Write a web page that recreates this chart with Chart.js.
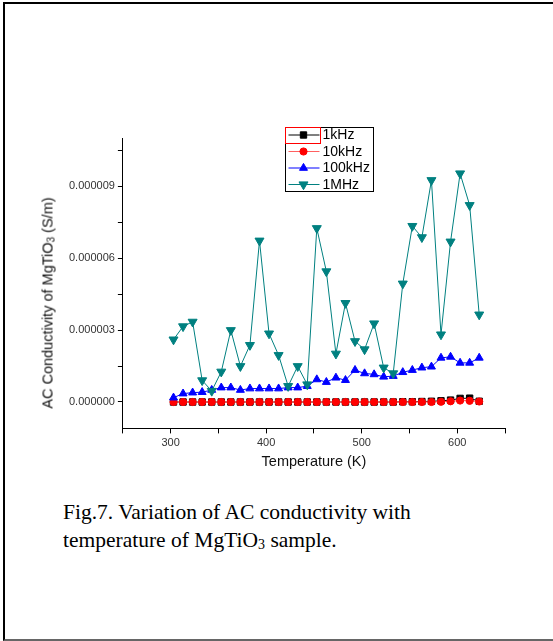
<!DOCTYPE html>
<html lang="en">
<head>
<meta charset="UTF-8">
<title>AC conductivity of MgTiO3</title>
<script src="https://cdn.jsdelivr.net/npm/chart.js"></script>
<style>
    body { margin: 0; background: #fff; }
    .pagina { position: relative; width: 553px; height: 641px; overflow: hidden; font-family: Arial, "Liberation Sans", sans-serif; }
    .moldura { position: absolute; left: 3px; top: 2px; width: 560px; height: 635px; border-top: 2px solid #000; border-left: 2px solid #000; border-bottom: 2px solid #666; }
    #grafico { position: absolute; left: 0; top: 0; }
    .tituloY { position: absolute; left: 48px; top: 303px; transform: translate(-50%, -50%) rotate(-90deg); white-space: nowrap; font-size: 14.5px; color: #111; }
    .tituloY sub { font-size: 10px; vertical-align: -2px; }
    .legenda { position: absolute; left: 63px; top: 498px; font-family: "Liberation Serif", "Times New Roman", serif; font-size: 21.5px; line-height: 28px; color: #000; }
    .legenda sub { font-size: 14px; vertical-align: -2px; }
</style>
</head>
<body>
<div class="pagina">
    <div class="moldura"></div>
    <canvas id="grafico" width="553" height="480"></canvas>
    <div class="tituloY">AC Conductivity of MgTiO<sub>3</sub> (S/m)</div>
    <div class="legenda">Fig.7. Variation of AC conductivity with<br>temperature of MgTiO<sub>3</sub> sample.</div>
</div>
<script>
    // temperaturas (K)
    var temperaturas = [303, 313, 323, 333, 343, 353, 363, 373, 383, 393, 403, 413, 423, 433, 443, 453, 463,
        473, 483, 493, 503, 513, 523, 533, 543, 553, 563, 573, 583, 593, 603, 613, 623];

    // condutividade em unidades de 1e-6 S/m
    var unidade = 1e-6;
    var ac1kHz = [0, 0, 0, 0, 0, 0, 0, 0, 0, 0, 0, 0, 0, 0, 0, 0, 0,
        0, 0, 0, 0, 0, 0, 0, 0.01, 0.01, 0.02, 0.03, 0.05, 0.08, 0.15, 0.16, 0.03];
    var ac10kHz = [0, 0, 0, 0, 0, 0, 0, 0, 0, 0, 0, 0, 0, 0, 0, 0, 0,
        0, 0, 0, 0, 0, 0, 0, 0, 0, 0, 0, 0.01, 0.03, 0.06, 0.05, 0.02];
    var ac100kHz = [0.18, 0.35, 0.39, 0.41, 0.50, 0.60, 0.60, 0.50, 0.56, 0.56, 0.56, 0.56, 0.60, 0.60, 0.66, 0.94, 0.83,
        1.01, 0.91, 1.33, 1.19, 1.15, 1.05, 1.08, 1.24, 1.33, 1.43, 1.47, 1.84, 1.88, 1.63, 1.63, 1.84];
    var ac1MHz = [2.60, 3.15, 3.34, 0.90, 0.46, 1.26, 2.99, 1.49, 2.37, 6.72, 2.85, 1.95, 0.66, 1.49, 0.73, 7.24, 5.44,
        2.01, 4.12, 2.53, 2.19, 3.27, 1.43, 1.19, 4.93, 7.33, 6.86, 9.24, 2.81, 6.68, 9.52, 8.20, 3.64];

    var rotulos = ['1kHz', '10kHz', '100kHz', '1MHz'];

    // eixos
    var xMin = 250, xMax = 650;
    var xTicks = [250, 300, 350, 400, 450, 500, 550, 600, 650];
    var xComRotulo = [300, 400, 500, 600];
    var yMin = -1.1, yMax = 11;
    var yTicks = [0, 1.5, 3, 4.5, 6, 7.5, 9, 10.5];
    var yComRotulo = [0, 3, 6, 9];

    function pontos(valores) {
        return temperaturas.map(function (t, i) {
            return { x: t, y: valores[i] * unidade };
        });
    }

    var estilos = [
        { cor: '#000000', linha: '#000000', forma: 'rect', raio: 4.5, rot: 0, ordem: 3 },
        { cor: '#ff0000', linha: '#ff6060', forma: 'circle', raio: 3.6, rot: 0, ordem: 2 },
        { cor: '#0000ff', linha: '#0000ff', forma: 'triangle', raio: 4.6, rot: 0, ordem: 1 },
        { cor: '#008080', linha: '#008080', forma: 'triangle', raio: 5.2, rot: 180, ordem: 0 }
    ];
    var series = [ac1kHz, ac10kHz, ac100kHz, ac1MHz];

    var datasets = series.map(function (s, i) {
        var e = estilos[i];
        return {
            label: rotulos[i],
            data: pontos(s),
            borderColor: e.linha,
            backgroundColor: e.cor,
            borderWidth: 1,
            pointStyle: e.forma,
            pointRadius: e.raio,
            pointRotation: e.rot,
            pointBackgroundColor: e.cor,
            pointBorderColor: e.cor,
            pointBorderWidth: 1,
            tension: 0,
            order: e.ordem
        };
    });

    function desenhaMarcador(ctx, forma, r, rot, x, y) {
        ctx.beginPath();
        if (forma == 'rect') {
            var s = r * Math.SQRT1_2;
            ctx.rect(x - s, y - s, 2 * s, 2 * s);
        } else if (forma == 'circle') {
            ctx.arc(x, y, r, 0, Math.PI * 2);
        } else {
            var a = rot * Math.PI / 180;
            for (var k = 0; k < 3; k++) {
                var px = x + Math.sin(a) * r, py = y - Math.cos(a) * r;
                if (k == 0) ctx.moveTo(px, py); else ctx.lineTo(px, py);
                a += Math.PI * 2 / 3;
            }
            ctx.closePath();
        }
        ctx.fill();
        ctx.stroke();
    }

    // caixa de legenda dentro do grafico, como no Origin
    var caixaLegenda = {
        id: 'caixaLegenda',
        afterDatasetsDraw: function (chart) {
            var ctx = chart.ctx;
            var area = chart.chartArea;
            var x0 = Math.round(area.left + 162) + 0.5, y0 = Math.round(area.top - 11) + 0.5;
            ctx.save();
            ctx.fillStyle = '#fff';
            ctx.fillRect(x0, y0, 88, 64);
            ctx.lineWidth = 1;
            ctx.strokeStyle = '#000';
            ctx.strokeRect(x0, y0, 88, 64);
            ctx.strokeStyle = '#ff0000';
            ctx.strokeRect(x0, y0, 35, 16);
            ctx.font = '14px Arial, "Liberation Sans", sans-serif';
            ctx.textBaseline = 'middle';
            chart.data.datasets.forEach(function (ds, i) {
                var y = y0 + 7.5 + i * 16.5;
                var e = estilos[i];
                ctx.strokeStyle = ds.borderColor;
                ctx.beginPath();
                ctx.moveTo(x0 + 3, y);
                ctx.lineTo(x0 + 34, y);
                ctx.stroke();
                ctx.fillStyle = e.cor;
                ctx.strokeStyle = e.cor;
                desenhaMarcador(ctx, e.forma, e.raio, e.rot, x0 + 18, y);
                ctx.fillStyle = '#000';
                ctx.fillText(ds.label, x0 + 37, y + 0.5);
            });
            ctx.restore();
        }
    };

    var fonteTicks = { family: 'Arial, "Liberation Sans", sans-serif', size: 11 };

    new Chart(document.getElementById('grafico'), {
        type: 'line',
        data: { datasets: datasets },
        options: {
            responsive: false,
            animation: false,
            layout: { padding: { left: 66, right: 48, top: 138, bottom: 9 } },
            plugins: {
                legend: { display: false },
                tooltip: { enabled: false }
            },
            scales: {
                x: {
                    type: 'linear',
                    min: xMin,
                    max: xMax,
                    afterBuildTicks: function (axis) {
                        axis.ticks = xTicks.map(function (v) { return { value: v }; });
                    },
                    ticks: {
                        autoSkip: false,
                        maxRotation: 0,
                        color: '#333',
                        font: fonteTicks,
                        padding: 3,
                        callback: function (v) {
                            return xComRotulo.indexOf(v) >= 0 ? String(v) : '';
                        }
                    },
                    grid: { drawOnChartArea: false, drawTicks: true, tickLength: 5, color: '#000' },
                    border: { display: true, color: '#000', width: 1 },
                    title: {
                        display: true,
                        text: 'Temperature (K)',
                        color: '#111',
                        font: { family: 'Arial, "Liberation Sans", sans-serif', size: 14.5 },
                        padding: { top: 1, bottom: 0 }
                    }
                },
                y: {
                    type: 'linear',
                    min: yMin * unidade,
                    max: yMax * unidade,
                    afterBuildTicks: function (axis) {
                        axis.ticks = yTicks.map(function (v) { return { value: v * unidade }; });
                    },
                    ticks: {
                        autoSkip: false,
                        color: '#333',
                        font: fonteTicks,
                        padding: 3,
                        callback: function (v) {
                            var ok = yComRotulo.some(function (m) { return Math.abs(m * unidade - v) < 1e-12; });
                            return ok ? Math.abs(v).toFixed(6) : '';
                        }
                    },
                    grid: { drawOnChartArea: false, drawTicks: true, tickLength: 5, color: '#000' },
                    border: { display: true, color: '#000', width: 1 }
                }
            }
        },
        plugins: [caixaLegenda]
    });
</script>
</body>
</html>
